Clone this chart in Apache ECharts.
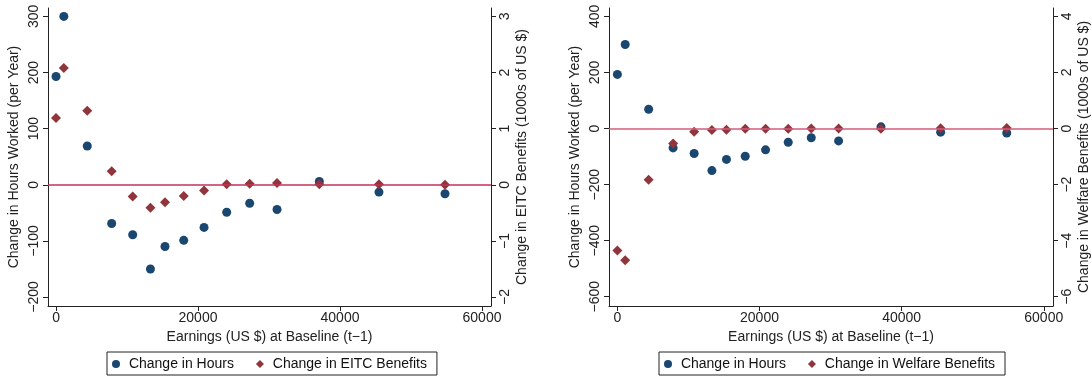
<!DOCTYPE html>
<html>
<head>
<meta charset="utf-8">
<script src="https://cdn.jsdelivr.net/npm/echarts@6/dist/echarts.min.js"></script>
<style>
html,body{margin:0;padding:0;background:#fff;}
#c{width:1092px;height:379px;}
</style>
</head>
<body>
<div id="c"></div>
<script>
// Earnings bins (US $) at baseline
const earnings = [0, 1100, 4400, 7840, 10800, 13300, 15350, 17990, 20850, 24040, 27280, 31130, 37090, 45490, 54790];
// Change in hours worked (per year)
const hours = [193, 300, 69, -69, -89, -150, -110, -99, -76, -49, -33, -44, 6, -13, -16];
// Change in EITC benefits (1000s of US $)
const eitc = [1.19, 2.08, 1.32, 0.24, -0.21, -0.41, -0.31, -0.20, -0.10, 0.01, 0.02, 0.03, 0.01, 0.01, 0.0];
// Change in welfare benefits (1000s of US $)
const welfare = [-4.35, -4.70, -1.83, -0.53, -0.11, -0.05, -0.04, -0.01, -0.01, -0.01, 0.0, 0.0, -0.01, 0.01, 0.02];

const xTicks = [0, 20000, 40000, 60000];
const hoursTicksL = [-200, -100, 0, 100, 200, 300];
const eitcTicks = [-2, -1, 0, 1, 2, 3];
const hoursTicksR = [-600, -400, -200, 0, 200, 400];
const welfareTicks = [-6, -4, -2, 0, 2, 4];

const FONT = "'Liberation Sans', Arial, Helvetica, sans-serif";
const FS = 14;
const BLUE = '#1a476f';
const RED = '#90353b';
const AX = '#222';
const fmt = v => String(v).replace('-', '\u2212');

function pair(a, b) { return a.map((x, i) => [x, b[i]]); }

function xAx(gi, min, max) {
  return {
    type: 'value', gridIndex: gi, min: min, max: max,
    name: 'Earnings (US $) at Baseline (t\u22121)', nameLocation: 'middle', nameGap: 24,
    nameTextStyle: { fontFamily: FONT, fontSize: FS, color: AX },
    axisLine: { show: true, onZero: false, lineStyle: { color: AX, width: 1 } },
    axisTick: { show: true, length: 5, lineStyle: { color: AX }, customValues: xTicks },
    axisLabel: { fontFamily: FONT, fontSize: FS, color: AX, margin: 5, customValues: xTicks, formatter: fmt },
    splitLine: { show: false }
  };
}
function yAx(gi, pos, min, max, ticks, name, gap) {
  return {
    type: 'value', gridIndex: gi, position: pos, min: min, max: max,
    name: name, nameLocation: 'middle', nameGap: gap,
    nameTextStyle: { fontFamily: FONT, fontSize: FS, color: AX },
    axisLine: { show: true, onZero: false, lineStyle: { color: AX, width: 1 } },
    axisTick: { show: true, length: 5, lineStyle: { color: AX }, customValues: ticks },
    axisLabel: { fontFamily: FONT, fontSize: FS, color: AX, margin: 7, rotate: 90, customValues: ticks, formatter: fmt },
    splitLine: { show: false }
  };
}

function legend(left, second) {
  return {
    left: left, top: 352, orient: 'horizontal',
    data: [{ name: 'Change in Hours', icon: 'circle' }, { name: second, icon: 'diamond' }],
    itemWidth: 8, itemHeight: 8, itemGap: 22,
    formatter: n => ' ' + n,
    borderColor: '#222', borderWidth: 1, borderRadius: 0, padding: [5, 10, 4, 5],
    textStyle: { fontFamily: FONT, fontSize: FS, color: '#111' }
  };
}

const chart = echarts.init(document.getElementById('c'), null, { renderer: 'canvas' });
chart.setOption({
  animation: false,
  backgroundColor: '#fff',
  grid: [
    { left: 48, top: 8, width: 443, height: 298 },
    { left: 609, top: 8, width: 444, height: 298 }
  ],
  xAxis: [xAx(0, -1130, 61270), xAx(1, -1180, 61300)],
  yAxis: [
    yAx(0, 'left', -216, 315, hoursTicksL, 'Change in Hours Worked (per Year)', 27),
    yAx(0, 'right', -2.16, 3.15, eitcTicks, 'Change in EITC Benefits (1000s of US $)', 24),
    yAx(1, 'left', -633, 430, hoursTicksR, 'Change in Hours Worked (per Year)', 27),
    yAx(1, 'right', -6.33, 4.30, welfareTicks, 'Change in Welfare Benefits (1000s of US $)', 24)
  ],
  legend: [legend(107, 'Change in EITC Benefits'), legend(659, 'Change in Welfare Benefits')],
  series: [
    {
      name: 'zero-left', type: 'line', xAxisIndex: 0, yAxisIndex: 0, data: [], silent: true,
      markLine: { symbol: 'none', silent: true, label: { show: false },
        lineStyle: { color: '#c2325a', width: 1.5, type: 'solid' }, data: [{ yAxis: 0 }] }
    },
    {
      name: 'zero-right', type: 'line', xAxisIndex: 1, yAxisIndex: 2, data: [], silent: true,
      markLine: { symbol: 'none', silent: true, label: { show: false },
        lineStyle: { color: '#d25c7c', width: 1.5, type: 'solid' }, data: [{ yAxis: 0 }] }
    },
    {
      name: 'Change in Hours', type: 'scatter', xAxisIndex: 0, yAxisIndex: 0,
      symbol: 'circle', symbolSize: 9, itemStyle: { color: BLUE, opacity: 1 }, data: pair(earnings, hours)
    },
    {
      name: 'Change in EITC Benefits', type: 'scatter', xAxisIndex: 0, yAxisIndex: 1,
      symbol: 'diamond', symbolSize: 10, itemStyle: { color: RED, opacity: 1 }, data: pair(earnings, eitc)
    },
    {
      name: 'Change in Hours', type: 'scatter', xAxisIndex: 1, yAxisIndex: 2,
      symbol: 'circle', symbolSize: 9, itemStyle: { color: BLUE, opacity: 1 }, data: pair(earnings, hours)
    },
    {
      name: 'Change in Welfare Benefits', type: 'scatter', xAxisIndex: 1, yAxisIndex: 3,
      symbol: 'diamond', symbolSize: 10, itemStyle: { color: RED, opacity: 1 }, data: pair(earnings, welfare)
    }
  ]
});
</script>
</body>
</html>
